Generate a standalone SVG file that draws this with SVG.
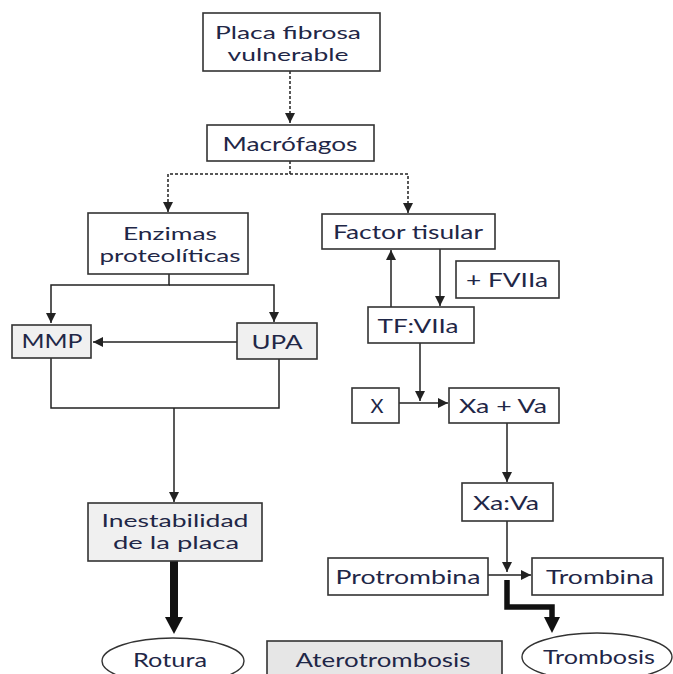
<svg xmlns="http://www.w3.org/2000/svg" width="673" height="674" viewBox="0 0 673 674">
<defs>
<marker id="ah" viewBox="0 0 10 10" refX="10" refY="5" markerWidth="10" markerHeight="10" markerUnits="userSpaceOnUse" orient="auto">
<path d="M0,0 L10,5 L0,10 z" fill="#222"/>
</marker>
</defs>
<style>
.box{fill:#fff;stroke:#333;stroke-width:1.6}
.gbox{fill:#f0f0f0;stroke:#333;stroke-width:1.6}
.g2{fill:#e6e6e6;stroke:#333;stroke-width:1.6}
.t{font-family:Lato,"Open Sans",sans-serif;font-size:19px;fill:#1f2747;text-anchor:middle}
.t2{font-size:18px}
.ln{fill:none;stroke:#222;stroke-width:1.5}
.dl{fill:none;stroke:#222;stroke-width:1.5;stroke-dasharray:3,2}
.thick{fill:none;stroke:#111}
</style>
<rect width="673" height="674" fill="#fff"/>
<g id="connectors">
<path class="dl" d="M290,71 V123" marker-end="url(#ah)"/>
<path class="dl" d="M290,161 V174 H168 V212" marker-end="url(#ah)"/>
<path class="dl" d="M290,174 H408 V213" marker-end="url(#ah)"/>
<path class="ln" d="M169,274 V285 H51 V323" marker-end="url(#ah)"/>
<path class="ln" d="M169,285 H274 V322" marker-end="url(#ah)"/>
<path class="ln" d="M237,342 H93" marker-end="url(#ah)"/>
<path class="ln" d="M51,358 V408 H279 V359"/>
<path class="ln" d="M174,408 V502" marker-end="url(#ah)"/>
<path class="thick" d="M174,561 V619" stroke-width="8"/>
<path d="M165,617 L183,617 L174,634 z" fill="#111"/>
<path class="ln" d="M391,307 V250" marker-end="url(#ah)"/>
<path class="ln" d="M440,249 V306" marker-end="url(#ah)"/>
<path class="ln" d="M420,343 V401" marker-end="url(#ah)"/>
<path class="ln" d="M399,403 H448" marker-end="url(#ah)"/>
<path class="ln" d="M507,423 V482" marker-end="url(#ah)"/>
<path class="ln" d="M507,521 V572" marker-end="url(#ah)"/>
<path class="ln" d="M488,575 H531" marker-end="url(#ah)"/>
<path class="thick" d="M507,580 V607 H552 V619" stroke-width="5.5"/>
<path d="M544,617 L560,617 L552,633 z" fill="#111"/>
</g>
<g id="placa"><rect class="box" x="203" y="13" width="177" height="58"/>
<text class="t t2" x="288" y="39" textLength="146" lengthAdjust="spacingAndGlyphs">Placa fibrosa</text>
<text class="t t2" x="288" y="61" textLength="121" lengthAdjust="spacingAndGlyphs">vulnerable</text></g>
<g id="macrofagos"><rect class="box" x="207" y="125" width="167" height="36"/>
<text class="t" x="290" y="151" textLength="135" lengthAdjust="spacingAndGlyphs">Macrófagos</text></g>
<g id="enzimas"><rect class="box" x="88" y="213" width="160" height="61"/>
<text class="t t2" x="170" y="240" textLength="94" lengthAdjust="spacingAndGlyphs">Enzimas</text>
<text class="t t2" x="170" y="262" textLength="141" lengthAdjust="spacingAndGlyphs">proteolíticas</text></g>
<g id="mmp"><rect class="gbox" x="12" y="325" width="79" height="33"/>
<text class="t" x="52" y="348" textLength="61" lengthAdjust="spacingAndGlyphs">MMP</text></g>
<g id="upa"><rect class="gbox" x="237" y="323" width="80" height="36"/>
<text class="t" x="277" y="349" textLength="51" lengthAdjust="spacingAndGlyphs">UPA</text></g>
<g id="inestabilidad"><rect class="gbox" x="88" y="503" width="174" height="58"/>
<text class="t t2" x="175" y="527" textLength="147" lengthAdjust="spacingAndGlyphs">Inestabilidad</text>
<text class="t t2" x="176" y="549" textLength="126" lengthAdjust="spacingAndGlyphs">de la placa</text></g>
<g id="rotura"><ellipse cx="173" cy="661" rx="71" ry="23" fill="#fff" stroke="#333" stroke-width="1.4"/>
<text class="t" x="170" y="667" textLength="74" lengthAdjust="spacingAndGlyphs">Rotura</text></g>
<g id="aterotrombosis"><rect class="g2" x="267" y="641" width="235" height="40"/>
<text class="t" x="383" y="667" textLength="175" lengthAdjust="spacingAndGlyphs">Aterotrombosis</text></g>
<g id="factor"><rect class="box" x="322" y="214" width="173" height="35"/>
<text class="t" x="408" y="239" textLength="150" lengthAdjust="spacingAndGlyphs">Factor tisular</text></g>
<g id="fviia"><rect class="box" x="456" y="261" width="103" height="37"/>
<text class="t" x="507" y="287" textLength="82" lengthAdjust="spacingAndGlyphs">+ FVIIa</text></g>
<g id="tfviia"><rect class="box" x="368" y="307" width="106" height="36"/>
<text class="t" x="418" y="333" textLength="81" lengthAdjust="spacingAndGlyphs">TF:VIIa</text></g>
<g id="x"><rect class="box" x="352" y="388" width="47" height="35"/>
<text class="t" x="377" y="413" textLength="13" lengthAdjust="spacingAndGlyphs">X</text></g>
<g id="xava"><rect class="box" x="449" y="388" width="110" height="35"/>
<text class="t" x="503" y="413" textLength="88" lengthAdjust="spacingAndGlyphs">Xa + Va</text></g>
<g id="xa_va"><rect class="box" x="462" y="483" width="91" height="38"/>
<text class="t" x="506" y="510" textLength="66" lengthAdjust="spacingAndGlyphs">Xa:Va</text></g>
<g id="protrombina"><rect class="box" x="328" y="558" width="160" height="37"/>
<text class="t" x="408" y="584" textLength="145" lengthAdjust="spacingAndGlyphs">Protrombina</text></g>
<g id="trombina"><rect class="box" x="532" y="558" width="131" height="37"/>
<text class="t" x="600" y="584" textLength="108" lengthAdjust="spacingAndGlyphs">Trombina</text></g>
<g id="trombosis"><ellipse cx="597" cy="657" rx="75" ry="24" fill="#fff" stroke="#333" stroke-width="1.4"/>
<text class="t" x="599" y="664" textLength="112" lengthAdjust="spacingAndGlyphs">Trombosis</text></g>
</svg>
